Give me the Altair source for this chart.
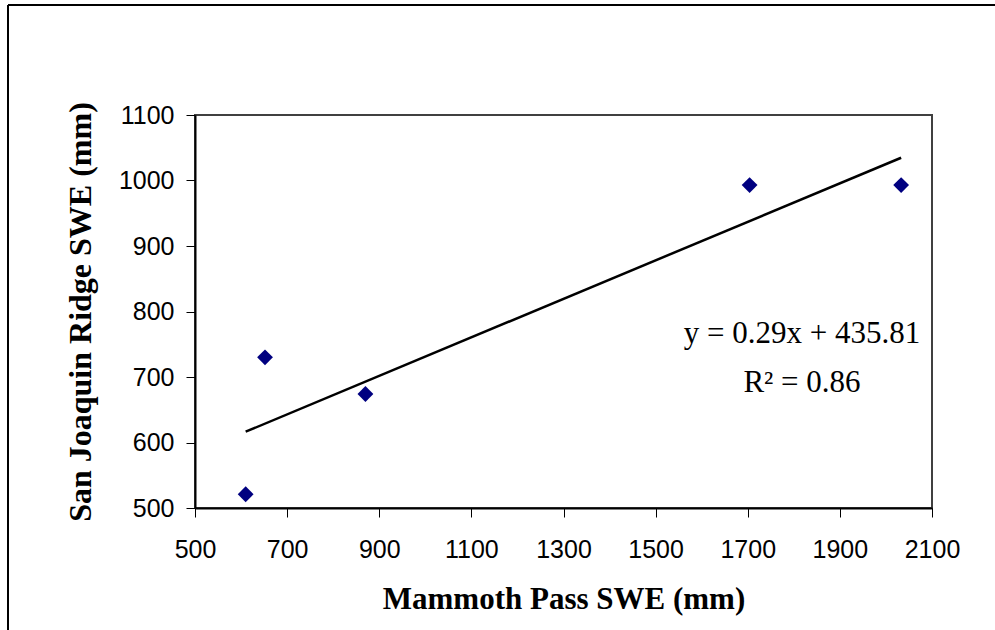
import altair as alt
import pandas as pd

# Snow water equivalent at the two sites (mm)
mammoth_pass = [610, 652, 870, 1704, 2033]
san_joaquin = [521, 730, 674, 993, 993]

# Fitted-line annotation
eq_lines = ["y = 0.29x + 435.81", "R² = 0.86"]

x_ticks = list(range(500, 2101, 200))
y_ticks = list(range(500, 1101, 100))

W, H = 737, 393
PAD_L, PAD_T = 195, 115

df = pd.DataFrame({"mp": mammoth_pass, "sj": san_joaquin})

x_enc = alt.X(
    "mp:Q",
    scale=alt.Scale(domain=[500, 2100], nice=False, zero=False),
    axis=alt.Axis(
        values=x_ticks, format="d", labelOverlap=False, labelFlush=False,
        title="Mammoth Pass SWE (mm)", grid=False,
        tickSize=9, labelPadding=20, labelFontSize=25, labelFont="Liberation Sans",
        labelColor="#000", domainColor="#000", domainWidth=2, tickColor="#000",
        titleFont="Liberation Serif", titleFontSize=31, titleFontWeight="bold",
        titleColor="#000", titleX=W / 2, titleY=100, titleBaseline="alphabetic",
    ),
)
y_enc = alt.Y(
    "sj:Q",
    scale=alt.Scale(domain=[500, 1100], nice=False, zero=False),
    axis=alt.Axis(
        values=y_ticks, format="d", labelOverlap=False, labelFlush=False,
        title="San Joaquin Ridge SWE (mm)", grid=False,
        tickSize=9, labelPadding=12, labelFontSize=25, labelFont="Liberation Sans",
        labelColor="#000", domainColor="#000", domainWidth=2, tickColor="#000",
        titleFont="Liberation Serif", titleFontSize=32, titleFontWeight="bold",
        titleColor="#000", titleAngle=-90, titleX=-105, titleY=H / 2,
        titleAlign="center", titleBaseline="alphabetic",
    ),
)

points = alt.Chart(df).mark_point(
    shape="diamond", filled=True, size=250, color="#000080", opacity=1
).encode(x=x_enc, y=y_enc)

trend = alt.Chart(df).transform_regression("mp", "sj").mark_line(
    color="#000", strokeWidth=2.5
).encode(x="mp:Q", y="sj:Q")

eq1 = alt.Chart(pd.DataFrame({"t": [eq_lines[0]]})).mark_text(
    font="Liberation Serif", fontSize=31, color="#000", align="center",
    baseline="alphabetic",
).encode(text="t:N", x=alt.value(607), y=alt.value(228))

eq2 = alt.Chart(pd.DataFrame({"t": [eq_lines[1]]})).mark_text(
    font="Liberation Serif", fontSize=31, color="#000", align="center",
    baseline="alphabetic",
).encode(text="t:N", x=alt.value(607), y=alt.value(277))

# Outer chart frame (top and left edges)
frame_top = alt.Chart(pd.DataFrame({"k": [0]})).mark_rule(
    color="#000", strokeWidth=2, clip=False
).encode(x=alt.value(-187), x2=alt.value(810), y=alt.value(-110))
frame_left = alt.Chart(pd.DataFrame({"k": [0]})).mark_rule(
    color="#000", strokeWidth=2, clip=False
).encode(x=alt.value(-187), y=alt.value(-110), y2=alt.value(520))

chart = alt.layer(frame_top, frame_left, trend, points, eq1, eq2).properties(
    width=W, height=H,
    autosize=alt.AutoSizeParams(type="none"),
    padding={"left": PAD_L, "top": PAD_T, "right": 995 - PAD_L - W, "bottom": 630 - PAD_T - H},
).configure_view(stroke="#404040", strokeWidth=2)

chart.save("out.html", embed_options={"renderer": "svg", "actions": False})
